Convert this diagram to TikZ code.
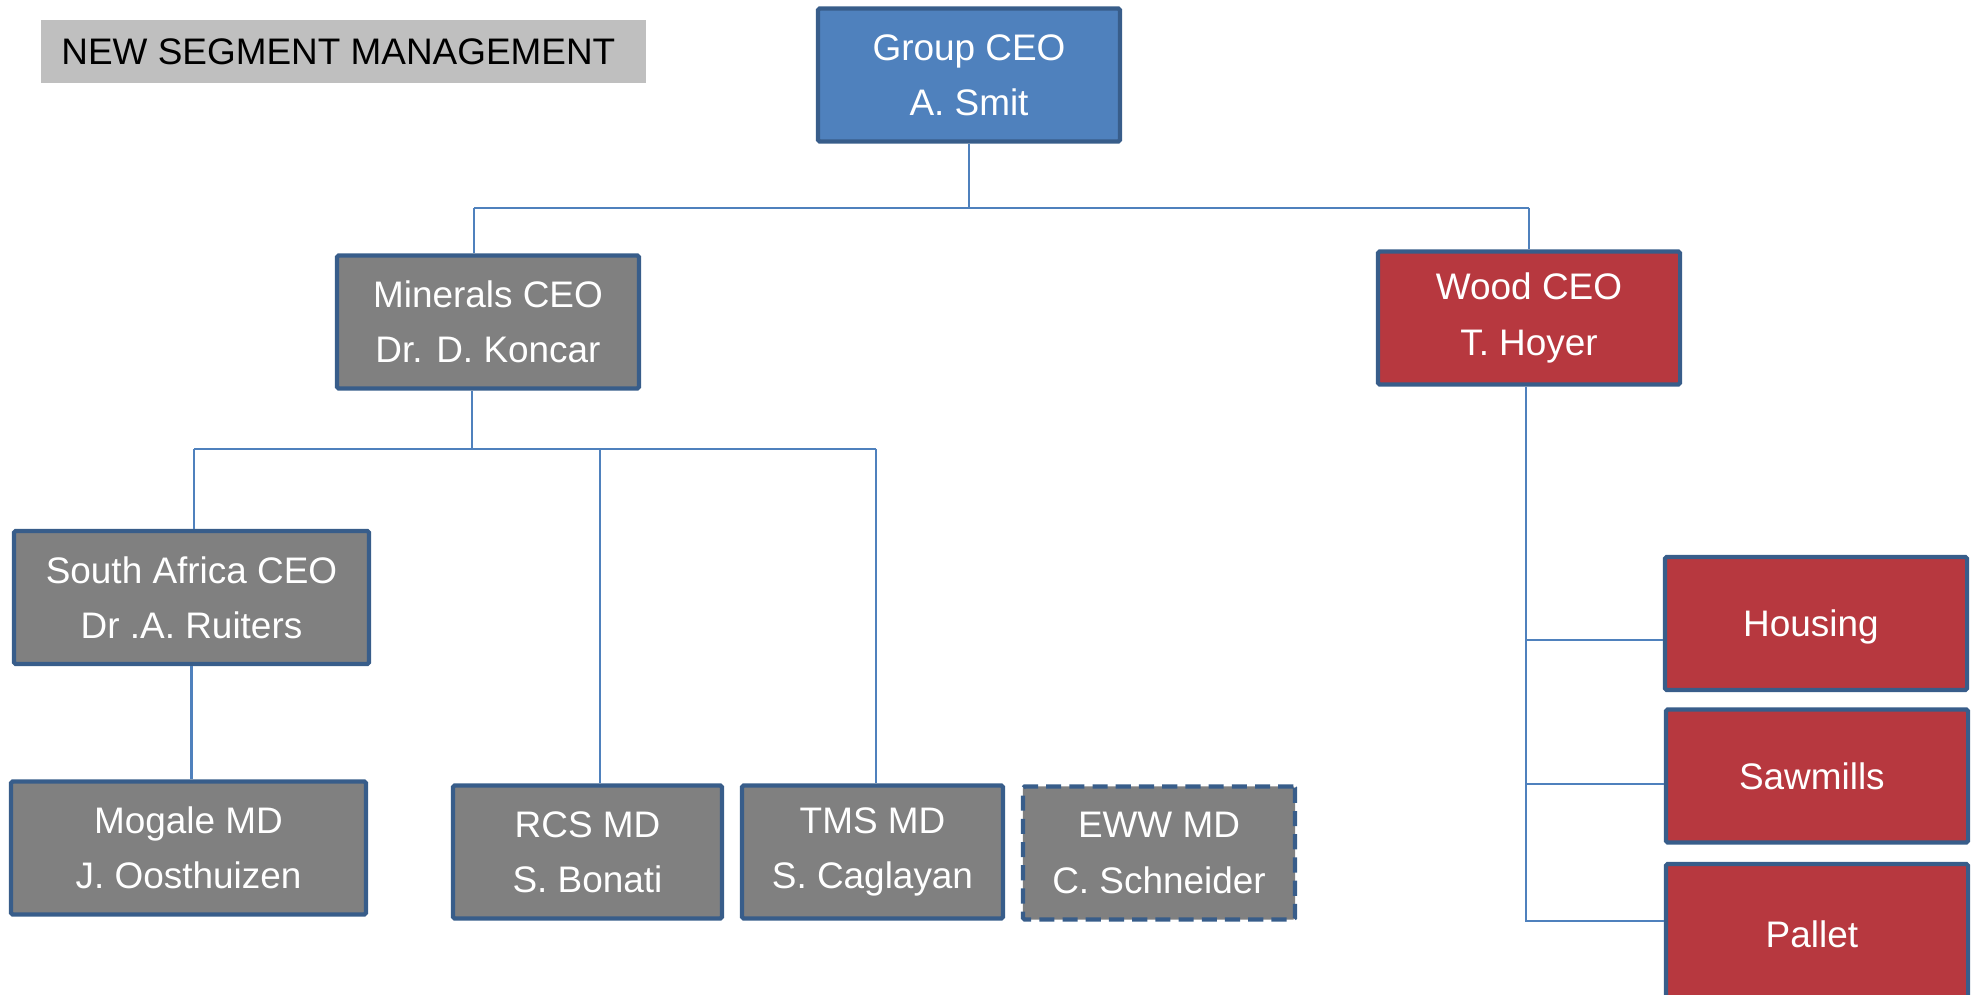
\documentclass[tikz,border=0pt]{standalone}
\usepackage{fontspec}
\setmainfont{Liberation Sans}
\usetikzlibrary{positioning}

\definecolor{boxline}{HTML}{385D8A}
\definecolor{linkblue}{HTML}{4F81BD}
\definecolor{groupblue}{HTML}{4F81BD}
\definecolor{mineralgray}{HTML}{808080}
\definecolor{woodred}{HTML}{B7383F}
\definecolor{titlegray}{HTML}{BFBFBF}

\begin{document}
\begin{tikzpicture}[x = 0.01cm, y = -0.01cm,
    every node/.style = { align = center, inner sep = 0pt, font = \fontsize{10.5}{15.7}\selectfont },
    post/.style = { draw = boxline, line width = 1.2pt, text = white, rounded corners = 0.5pt,
                    minimum width = 3.02cm, minimum height = 1.33cm },
    link/.style = { draw = linkblue, line width = 0.6pt }]
  \useasboundingbox (0,0) rectangle (1973,995);

  \node [fill = titlegray, minimum width = 6.04cm, minimum height = 0.63cm] (title) at (343.5,51.5) { NEW SEGMENT MANAGEMENT };

  % top
  \node [post, fill = groupblue] (group) at (969,75) { Group CEO \\ A. Smit };
  \node [post, fill = mineralgray] (minerals) at (488,322) { Minerals CEO \\ Dr. D. Koncar };
  \node [post, fill = woodred] (wood) at (1529,318) { Wood CEO \\ T. Hoyer };

  % minerals side
  \node [post, fill = mineralgray, minimum width = 3.55cm] (africa) at (191.5,597.5) { South Africa CEO \\ Dr .A. Ruiters };
  \node [post, fill = mineralgray, minimum width = 3.55cm] (mogale) at (188.5,848) { Mogale MD \\ J. Oosthuizen };
  \node [post, fill = mineralgray, minimum width = 2.69cm] (rcs) at (587.5,852) { RCS MD \\ S. Bonati };
  \node [post, fill = mineralgray, minimum width = 2.61cm] (tms) at (872.5,852) { TMS MD \\ S. Caglayan };
  \node [post, fill = mineralgray, minimum width = 2.72cm, dash pattern = on 4.3pt off 2.3pt] (eww) at (1159,853) { EWW MD \\ C. Schneider };

  % wood side
  \node [post, fill = woodred, text depth = 0pt] (housing) at (1816,623.5) { Housing };
  \node [post, fill = woodred, text depth = 0pt] (sawmills) at (1817,776) { Sawmills };
  \node [post, fill = woodred, text depth = 0pt, minimum height = 1.4cm] (pallet) at (1817,934) { Pallet };

  % lines
  \coordinate (busL) at (474,208);
  \coordinate (busR) at (1529,208);
  \draw [link] (busL) -- (busR);
  \draw [link] (group) -- (group |- busL);
  \draw [link] (busL) -- (busL |- minerals.north);
  \draw [link] (busR) -- (wood);

  \coordinate (subL) at (194,449);
  \coordinate (subM) at (472,449);
  \coordinate (subC) at (600,449);
  \coordinate (subR) at (876,449);
  \draw [link] (subL) -- (subR);
  \draw [link] (minerals.south -| subM) -- (subM);
  \draw [link] (subL) -- (subL |- africa.north);
  \draw [link] (subC) -- (subC |- rcs.north);
  \draw [link] (subR) -- (subR |- tms.north);
  \draw [link] (africa.south) -- (africa.south |- mogale.north);

  \coordinate (trunk) at (1526,921);
  \coordinate (hjoin) at (1526,640);
  \coordinate (sjoin) at (1526,784);
  \draw [link] (wood.south -| trunk) -- (trunk) -- (trunk -| pallet.west);
  \draw [link] (hjoin) -- (hjoin -| housing.west);
  \draw [link] (sjoin) -- (sjoin -| sawmills.west);

\end{tikzpicture}
\end{document}
